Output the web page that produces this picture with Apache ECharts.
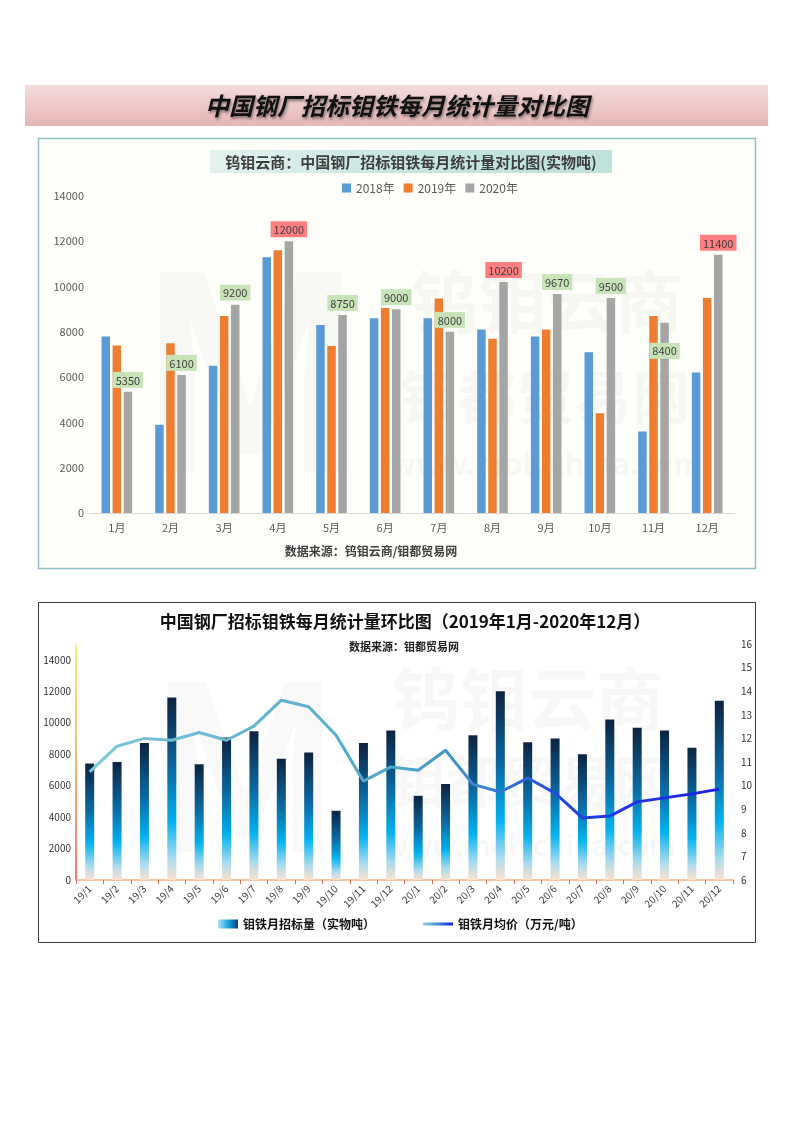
<!DOCTYPE html>
<html><head><meta charset="utf-8">
<script src="https://cdn.jsdelivr.net/npm/echarts@6/dist/echarts.min.js"></script>
<style>html,body{margin:0;padding:0;background:#fff}#c{width:793px;height:1122px}</style>
</head><body><div id="c"></div>
<script>
// ---------- data ----------
const months = ['1月','2月','3月','4月','5月','6月','7月','8月','9月','10月','11月','12月'];
const years = ['2018年','2019年','2020年'];
const v2018 = [7800,3900,6500,11300,8300,8600,8600,8100,7800,7100,3600,6200];
const v2019 = [7400,7500,8700,11600,7370,9050,9470,7700,8100,4400,8700,9500];
const v2020 = [5350,6100,9200,12000,8750,9000,8000,10200,9670,9500,8400,11400];

const periods = ['19/1','19/2','19/3','19/4','19/5','19/6','19/7','19/8','19/9','19/10','19/11','19/12',
                 '20/1','20/2','20/3','20/4','20/5','20/6','20/7','20/8','20/9','20/10','20/11','20/12'];
const tenderVolume = [7400,7500,8700,11600,7350,9050,9450,7700,8100,4400,8700,9500,
                      5350,6100,9200,12000,8750,9000,8000,10200,9670,9500,8400,11400];
const avgPrice = [10.58,11.67,12.0,11.92,12.25,11.92,12.52,13.62,13.34,12.13,10.19,10.79,
                  10.65,11.5,10.05,9.73,10.32,9.68,8.63,8.71,9.31,9.48,9.65,9.85];
const seriesNames2 = ['钼铁月招标量（实物吨）','钼铁月均价（万元/吨）'];

// ---------- style ----------
const FONT = '"Noto Sans CJK SC","Noto Sans",sans-serif';
const redBg = '#ff7f80', greenBg = '#c8e3b8';
const labelInsideMonths = ['11月'];
const LG = echarts.graphic.LinearGradient;
const plain = v => String(v);

const chart = echarts.init(document.getElementById('c'));

const labelData = v2020.map((v, i) => {
  const inside = labelInsideMonths.indexOf(months[i]) >= 0;
  return {
    value: v,
    label: {
      backgroundColor: v >= 10000 ? redBg : greenBg,
      position: inside ? 'insideTop' : 'top',
      distance: inside ? 20 : 4
    }
  };
});

function wm(text, x, y, size, op) {
  return {type:'text', z:-5, silent:true,
    style:{text:text, x:x, y:y, fill:'rgba(0,0,0,' + (op||0.03) + ')', font:'bold ' + size + 'px ' + FONT,
      textAlign:'center', textVerticalAlign:'middle'}};
}

const option = {
  backgroundColor: '#ffffff',
  animation: false,
  textStyle: {fontFamily: FONT},
  graphic: [
    // banner
    {type:'rect', z:-10, shape:{x:25,y:85,width:743,height:41},
      style:{fill:new LG(0,0,0,1,[{offset:0,color:'#f3dcdb'},{offset:1,color:'#e4b6b4'}])}},
    {type:'text', z:-9, style:{text:'中国钢厂招标钼铁每月统计量对比图', x:397, y:106,
      font:'italic bold 24px ' + FONT, fill:'#111', textAlign:'center', textVerticalAlign:'middle',
      textShadowColor:'rgba(0,0,0,0.45)', textShadowBlur:3, textShadowOffsetX:1, textShadowOffsetY:2}},
    // top frame
    {type:'rect', z:-10, shape:{x:38.5,y:138.5,width:717,height:430},
      style:{fill:'#fefefa', stroke:'#8fbfc2', lineWidth:1.5}},
    {type:'rect', z:-9, shape:{x:210,y:150,width:402,height:23},
      style:{fill:new LG(0,0,1,0,[{offset:0,color:'#e3f2ef'},{offset:0.5,color:'#c4e5df'},{offset:1,color:'#bfe2dc'}])}},
    {type:'text', z:-8, style:{text:'钨钼云商：中国钢厂招标钼铁每月统计量对比图(实物吨)', x:411, y:162,
      font:'bold 15px ' + FONT, fill:'#3f3f3f', textAlign:'center', textVerticalAlign:'middle'}},
    {type:'text', z:-8, style:{text:'数据来源：钨钼云商/钼都贸易网', x:371, y:551,
      font:'bold 12px ' + FONT, fill:'#404040', textAlign:'center', textVerticalAlign:'middle'}},
    wm('M', 250, 370, 270, 0.022),
    wm('钨钼云商', 547, 302, 68),
    wm('钼都贸易网', 545, 397, 58),
    wm('www.molychina.com', 546, 464, 30),
    // bottom frame
    {type:'rect', z:-10, shape:{x:38.5,y:602.5,width:717,height:340},
      style:{fill:'#ffffff', stroke:'#3a3a3a', lineWidth:1}},
    {type:'text', z:-8, style:{text:'中国钢厂招标钼铁每月统计量环比图（2019年1月-2020年12月）', x:405, y:622,
      font:'bold 17px ' + FONT, fill:'#111', textAlign:'center', textVerticalAlign:'middle'}},
    {type:'text', z:-8, style:{text:'数据来源：钼都贸易网', x:404, y:647,
      font:'bold 11px ' + FONT, fill:'#222', textAlign:'center', textVerticalAlign:'middle'}},
    wm('M', 245, 765, 230, 0.022),
    wm('钨钼云商', 528, 699, 68),
    wm('钼都贸易网', 530, 781, 56),
    wm('www.molychina.com', 530, 845, 28)
  ],
  legend: [
    {data: years, left: 337, top: 177, icon: 'rect', itemWidth: 9, itemHeight: 9, itemGap: 9,
      textStyle: {fontSize: 12, color: '#595959'}},
    {data: [{name: seriesNames2[0], icon: 'rect',
        itemStyle: {color: new LG(0,0,1,0,[{offset:0,color:'#b5e3f5'},{offset:0.5,color:'#15a8e0'},{offset:1,color:'#0a3f78'}])}}],
      left: 213, top: 913, itemWidth: 20, itemHeight: 9, itemGap: 3,
      textStyle: {fontSize: 12, fontWeight: 'bold', color: '#111'}},
    {data: [{name: seriesNames2[1], icon: 'rect',
        itemStyle: {color: new LG(0,0,1,0,[{offset:0,color:'#8fd0e0'},{offset:0.5,color:'#3f8fd0'},{offset:1,color:'#1018e8'}])}}],
      left: 418, top: 913, itemWidth: 30, itemHeight: 3, itemGap: 3,
      textStyle: {fontSize: 12, fontWeight: 'bold', color: '#111'}}
  ],
  grid: [
    {left: 90, right: 59, top: 196, bottom: 609},
    {left: 76, right: 60, top: 644, bottom: 242}
  ],
  xAxis: [
    {type:'category', gridIndex:0, data: months,
      axisLine:{lineStyle:{color:'#d9d9d9'}}, axisTick:{show:false},
      axisLabel:{fontSize:11, color:'#595959', margin:9}},
    {type:'category', gridIndex:1, data: periods,
      axisLine:{lineStyle:{color:'#f4b183', width:1.5}},
      axisTick:{show:true, length:4, lineStyle:{color:'#e06a5a'}},
      axisLabel:{fontSize:10, color:'#404040', rotate:45, margin:7, interval:0}}
  ],
  yAxis: [
    {type:'value', gridIndex:0, min:0, max:14000, interval:2000,
      splitLine:{show:false}, axisLine:{show:false}, axisTick:{show:false},
      axisLabel:{fontSize:11, color:'#595959', margin:6, formatter: plain}},
    {type:'value', gridIndex:1, min:0, max:15000, interval:2000,
      splitLine:{show:false},
      axisLine:{show:true, lineStyle:{width:1.5, color:new LG(0,0,0,1,[{offset:0,color:'#ffe84a'},{offset:1,color:'#e8503a'}])}},
      axisTick:{show:false},
      axisLabel:{fontSize:10, color:'#333', margin:5, showMaxLabel:false, formatter: plain}},
    {type:'value', gridIndex:1, min:6, max:16, interval:1, position:'right',
      splitLine:{show:false}, axisLine:{show:false}, axisTick:{show:false},
      axisLabel:{fontSize:10, color:'#333', margin:8, formatter: plain}}
  ],
  series: [
    {name: years[0], type:'bar', xAxisIndex:0, yAxisIndex:0, data: v2018, barWidth:8.5, barGap:'30%',
      itemStyle:{color:'#5b9bd5'}},
    {name: years[1], type:'bar', xAxisIndex:0, yAxisIndex:0, data: v2019, barWidth:8.5, barGap:'30%',
      itemStyle:{color:'#ed7d31'}},
    {name: years[2], type:'bar', xAxisIndex:0, yAxisIndex:0, data: labelData, barWidth:8.5, barGap:'30%',
      itemStyle:{color:'#a5a5a5'},
      label:{show:true, fontSize:11, color:'#404040', padding:[3,3,2,3]}},
    {name: seriesNames2[0], type:'bar', xAxisIndex:1, yAxisIndex:1, data: tenderVolume, barWidth:9,
      itemStyle:{color: new LG(0,0,0,1,[
        {offset:0,color:'#0d2340'},{offset:0.4,color:'#0b6aa3'},{offset:0.68,color:'#02b1ee'},
        {offset:0.88,color:'#a9dbef'},{offset:1,color:'#fde2cc'}])}},
    {name: seriesNames2[1], type:'line', xAxisIndex:1, yAxisIndex:2, data: avgPrice, symbol:'none',
      lineStyle:{width:3, color: new LG(0,0,1,0,[
        {offset:0,color:'#80c8da'},{offset:0.5,color:'#4aa5c8'},{offset:0.62,color:'#3b86d2'},
        {offset:0.75,color:'#2244e2'},{offset:1,color:'#1a1fe8'}])},
      itemStyle:{color:'#3b86d2'}, z:5}
  ]
};
chart.setOption(option);
</script>
</body></html>
